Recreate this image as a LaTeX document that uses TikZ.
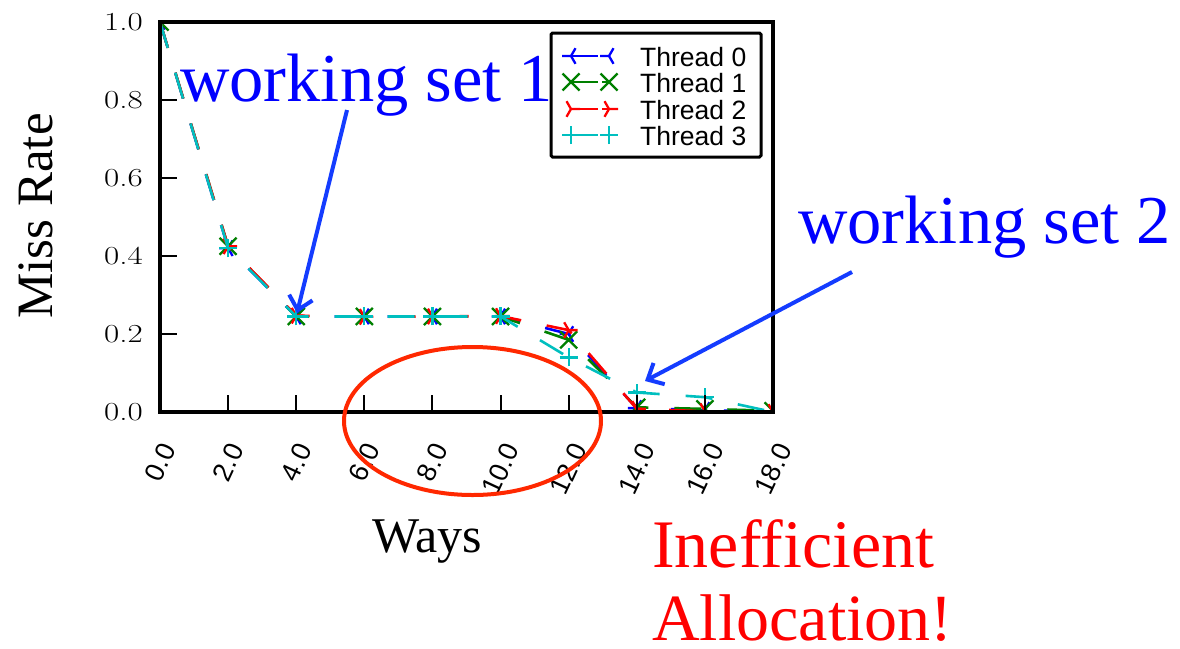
\documentclass[tikz,border=0pt]{standalone}
\usepackage{fontspec}
\usepackage{graphicx}
\usetikzlibrary{arrows.meta}
\newfontfamily\serifA{Liberation Serif}
\newfontfamily\sansA{Liberation Sans}
\definecolor{tblue}{RGB}{0,0,255}
\definecolor{tgreen}{RGB}{0,128,0}
\definecolor{tred}{RGB}{255,0,0}
\definecolor{tcyan}{RGB}{0,191,191}
\definecolor{arrowblue}{RGB}{20,60,255}
\definecolor{ellred}{RGB}{255,40,0}
\begin{document}
\begin{tikzpicture}[x=1pt,y=-1pt,
  thr/.style={line width=2.6pt, dash pattern=on 27pt off 26pt, line join=round},
  mk/.style={line width=2.3pt},
  pics/tril/.style={code={\draw[mk] (180:9pt)--(0,0)--(60:9pt) (0,0)--(-60:9pt);}},
  pics/trir/.style={code={\draw[mk] (0:9pt)--(0,0)--(120:9pt) (0,0)--(240:9pt);}},
  pics/xm/.style={code={\draw[mk] (-8.5pt,-8.5pt)--(8.5pt,8.5pt) (-8.5pt,8.5pt)--(8.5pt,-8.5pt);}},
  pics/pm/.style={code={\draw[mk] (-9pt,0)--(9pt,0) (0,-9pt)--(0,9pt);}},
  ytl/.style={anchor=east, inner sep=0pt, font=\fontsize{26}{30}\selectfont},
  xtl/.style={anchor=north, inner sep=0pt},
  tick/.style={line width=2pt},
  legtxt/.style={anchor=base west, inner sep=0pt, font=\sansA\fontsize{26.5}{30}\selectfont},
  ann/.style={anchor=base west, inner sep=0pt, font=\serifA\fontsize{68.5}{80}\selectfont},
  arr/.style={arrowblue, line width=4pt, -{Straight Barb[length=13pt,width=24pt]}}
]
\useasboundingbox (0,0) rectangle (1180,648);
\fill[white] (0,0) rectangle (1180,648);

% ---- data ----
\begin{scope}
\clip (160,22) rectangle (773,412);
\begin{scope}[shift={(160,412)}, x=34.0556pt, y=390pt]
 \draw[thr,tblue] (0,1)--(2,.42)--(4,.245)--(6,.245)--(8,.245)--(10,.245)--(12,.20)--(14,.01)--(16,.005)--(18,0);
 \foreach \px/\py in {0/1,2/.42,4/.245,6/.245,8/.245,10/.245,12/.20,14/.01,16/.005,18/0}
   \pic[color=tblue] at (\px,\py) {tril};
 \draw[thr,tgreen] (0,1)--(2,.425)--(4,.245)--(6,.245)--(8,.245)--(10,.245)--(12,.185)--(14,.012)--(16,.008)--(18,.003);
 \foreach \px/\py in {0/1,2/.425,4/.245,6/.245,8/.245,10/.245,12/.185,14/.012,16/.008,18/.003}
   \pic[color=tgreen] at (\px,\py) {xm};
 \draw[thr,tred] (0,1)--(2,.425)--(4,.247)--(6,.244)--(8,.245)--(10,.246)--(12,.21)--(14,.008)--(16,.002)--(18,0);
 \foreach \px/\py in {0/1,2/.425,4/.247,6/.244,8/.245,10/.246,12/.21,14/.008,16/.002,18/0}
   \pic[color=tred] at (\px,\py) {trir};
 \draw[thr,tcyan] (0,1)--(2,.42)--(4,.245)--(6,.245)--(8,.245)--(10,.245)--(12,.14)--(14,.05)--(16,.038)--(18,0);
 \foreach \px/\py in {0/1,2/.42,4/.245,6/.245,8/.245,10/.245,12/.14,14/.05,16/.038,18/0}
   \pic[color=tcyan] at (\px,\py) {pm};
\end{scope}
\end{scope}

% ---- axes ----
\foreach \t in {2,4,...,16}
  \draw[tick] ({160+34.0556*\t},412)--({160+34.0556*\t},395);
\foreach \v in {0.2,0.4,0.6,0.8}
  \draw[tick] (160,{412-390*\v})--(177,{412-390*\v});
\draw[line width=4pt] (160,22) rectangle (773,412);

\foreach \t in {0,2,...,18}
  \node[xtl] (xl\t) at ({160+34.0556*\t},441) {\rotatebox{65}{\sansA\fontsize{27}{30}\selectfont\t.0}};
\foreach \v/\l [count=\i] in {0/0.0,0.2/0.2,0.4/0.4,0.6/0.6,0.8/0.8,1/1.0}
  \node[ytl] (yl\i) at (143,{412-390*\v}) {\scalebox{1.27}[1]{\l}};

\node[rotate=90, anchor=base, inner sep=0pt, font=\serifA\fontsize{51}{60}\selectfont] (ylab) at (52,216) {Miss Rate};
\node[anchor=base west, inner sep=0pt, font=\serifA\fontsize{50}{60}\selectfont] (xlab) at (372,552) {Ways};

% ---- legend ----
\draw[line width=3pt, fill=white, rounded corners=1.5pt] (551,33) rectangle (761,157);
\foreach \c/\m/\yy/\n in {tblue/tril/56/0, tgreen/xm/82/1, tred/trir/109/2, tcyan/pm/135/3}{
  \draw[color=\c, line width=2.6pt] (571,\yy)--(598,\yy) (602,\yy)--(609,\yy);
  \pic[color=\c] at (571,\yy) {\m};
  \pic[color=\c] at (609,\yy) {\m};
  \node[legtxt] (leg\n) at (640,{\yy+10}) {Thread \n};
}

% ---- annotations ----
\node[ann, text=tblue] (ws1) at (180,101) {working set 1};
\node[ann, text=tblue] (ws2) at (798,243) {working set 2};
\coordinate (a1s) at (347,110);
\coordinate (a1e) at (297,313);
\draw[arr] (a1s) -- (a1e);
\coordinate (a2s) at (852,272);
\coordinate (a2e) at (645,381);
\draw[arr] (a2s) -- (a2e);

\draw[ellred, line width=4pt] (472.5,421) ellipse [x radius=128.5pt, y radius=74pt];

\node[ann, text=tred, font=\serifA\fontsize{68}{80}\selectfont] (ineff) at (652,567) {Inefficient};
\node[ann, text=tred, font=\serifA\fontsize{66}{80}\selectfont] (alloc) at (652,640) {Allocation!};
\end{tikzpicture}
\end{document}
